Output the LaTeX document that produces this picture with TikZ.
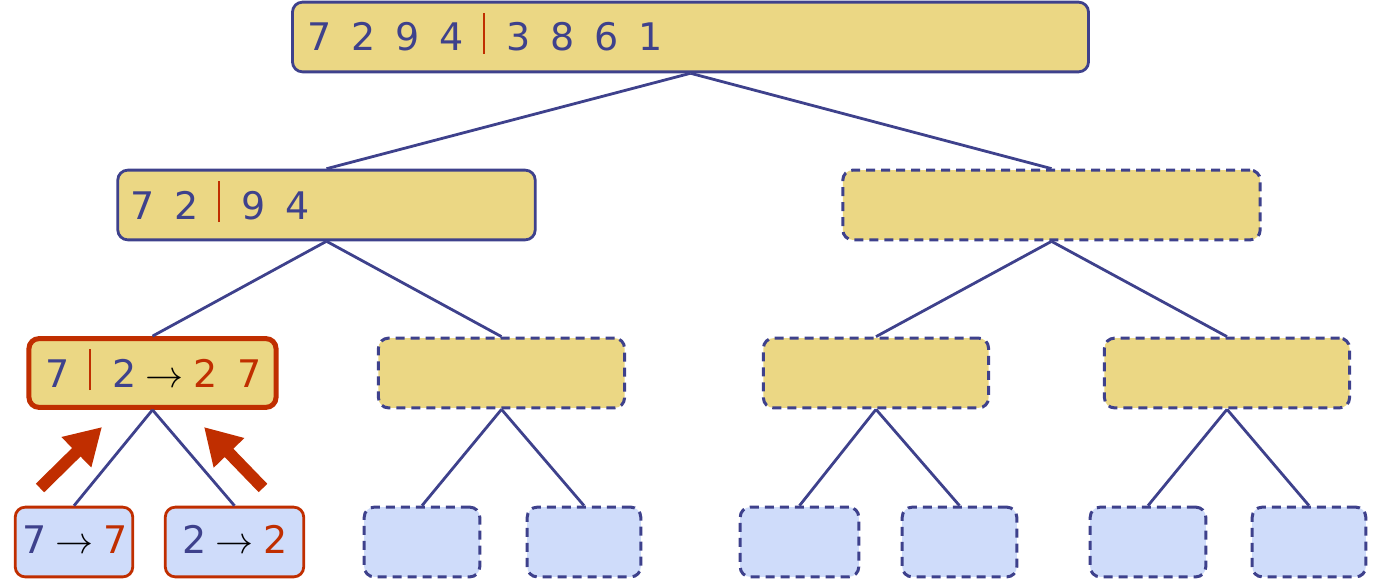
\documentclass[tikz,border=0pt]{standalone}
\usepackage{fix-cm}
\usepackage{fontspec}
\setmainfont{DejaVu Sans}
\usetikzlibrary{arrows.meta}
\definecolor{lineblue}{RGB}{62,65,140}
\definecolor{seqyellow}{RGB}{235,215,132}
\definecolor{leafblue}{RGB}{207,220,250}
\definecolor{cutred}{RGB}{192,46,0}
\newcommand\dgt[1]{\makebox[44bp][l]{#1}}
\newcommand\cut{\makebox[23bp][l]{\textcolor{cutred}{\rule[-3bp]{2.2bp}{41bp}}}}
\newcommand\goesto{\hspace{9bp}\textcolor{black}{$\rightarrow$}\hspace{10bp}}
\tikzset{
	seq/.style={draw=lineblue, fill=seqyellow, rounded corners=10bp, line width=2.8bp, inner sep=0pt},
	todo/.style={dash pattern=on 9bp off 6bp, line width=3bp},
	single/.style={seq, fill=leafblue},
	active/.style={draw=cutred, line width=5bp},
	done/.style={draw=cutred},
	nums/.style={anchor=base west, inner sep=0pt, text=lineblue, font=\fontsize{38bp}{40bp}\selectfont},
	link/.style={draw=lineblue, line width=2.8bp},
	push/.style={draw=cutred, line width=12bp, -{Triangle[length=36bp,width=40bp]}}
}
\begin{document}
\begin{tikzpicture}[x=1bp, y=-1bp]
	\useasboundingbox (0,0) rectangle (1383,587);
	% levels of the split
	\node[seq]                (root) at (690.5,37)  [minimum width=799, minimum height=70] {};
	\node[seq]                (la)   at (326.5,205) [minimum width=419, minimum height=70] {};
	\node[seq, todo]          (lb)   at (1051.5,205)[minimum width=419, minimum height=70] {};
	\node[seq, active]        (ma)   at (152.5,373) [minimum width=248, minimum height=69] {};
	\node[seq, todo]          (mb)   at (501.5,373) [minimum width=247, minimum height=70] {};
	\node[seq, todo]          (mc)   at (876,373)   [minimum width=226, minimum height=70] {};
	\node[seq, todo]          (md)   at (1227,373)  [minimum width=246, minimum height=70] {};
	\node[single, done]       (ba)   at (74,542)    [minimum width=118, minimum height=70] {};
	\node[single, done]       (bb)   at (234.5,542) [minimum width=139, minimum height=70] {};
	\node[single, todo]       (bc)   at (422,542)   [minimum width=116, minimum height=70] {};
	\node[single, todo]       (bd)   at (584,542)   [minimum width=114, minimum height=70] {};
	\node[single, todo]       (be)   at (799.5,542) [minimum width=119, minimum height=70] {};
	\node[single, todo]       (bf)   at (959.5,542) [minimum width=115, minimum height=70] {};
	\node[single, todo]       (bg)   at (1148,542)  [minimum width=116, minimum height=70] {};
	\node[single, todo]       (bh)   at (1309,542)  [minimum width=114, minimum height=70] {};
	% tree
	\draw[link] (root.south) -- (la.north);
	\draw[link] (root.south) -- (lb.north);
	\draw[link] (la.south)   -- (ma.north);
	\draw[link] (la.south)   -- (mb.north);
	\draw[link] (lb.south)   -- (mc.north);
	\draw[link] (lb.south)   -- (md.north);
	\draw[link] (ma.south)   -- (ba.north);
	\draw[link] (ma.south)   -- (bb.north);
	\draw[link] (mb.south)   -- (bc.north);
	\draw[link] (mb.south)   -- (bd.north);
	\draw[link] (mc.south)   -- (be.north);
	\draw[link] (mc.south)   -- (bf.north);
	\draw[link] (md.south)   -- (bg.north);
	\draw[link] (md.south)   -- (bh.north);
	% contents
	\node[nums] (troot) at (307,51)  {\dgt7\dgt2\dgt9\dgt4\cut\dgt3\dgt8\dgt{6}1};
	\node[nums] (tla)   at (130,219) {\dgt7\dgt2\cut\dgt{9}4};
	\node[nums] (tma)   at (45,387)  {\dgt7\cut 2\goesto\textcolor{cutred}{\dgt{2}7}};
	\node[nums] (tba)   at (22,553)  {7\goesto\textcolor{cutred}{7}};
	\node[nums] (tbb)   at (182,553) {2\goesto\textcolor{cutred}{2}};
	% merge back up
	\coordinate (pa) at (40,488);  \coordinate (qa) at (102,427);
	\coordinate (pb) at (263,488); \coordinate (qb) at (204,427);
	\draw[push] (pa) -- (qa);
	\draw[push] (pb) -- (qb);
\end{tikzpicture}
\end{document}
